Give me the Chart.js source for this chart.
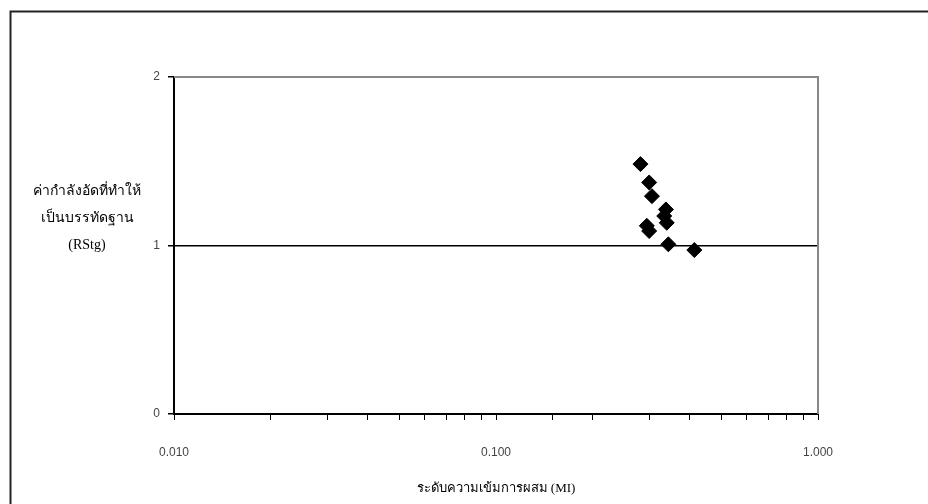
<!DOCTYPE html>
<html>
<head>
<meta charset="utf-8">
<script src="https://cdn.jsdelivr.net/npm/chart.js@4"></script>
<style>
  html, body { margin: 0; padding: 0; background: #fff; }
  #wrap { width: 928px; height: 504px; position: relative; }
</style>
</head>
<body>
<div id="wrap"><canvas id="chart"></canvas></div>
<script>
// values
const mixLevel = [0.281, 0.299, 0.305, 0.337, 0.333, 0.339, 0.294, 0.299, 0.343, 0.413];
const rstg     = [1.483, 1.374, 1.293, 1.214, 1.175, 1.135, 1.117, 1.086, 1.007, 0.973];
const yTicks = [0, 1, 2];
const xDecades = [0.01, 0.1, 1];
const yTitleLines = ['ค่ากำลังอัดที่ทำให้', 'เป็นบรรทัดฐาน', '(RStg)'];
const xTitle = 'ระดับความเข้มการผสม (MI)';

const points = mixLevel.map((x, i) => ({ x: x, y: rstg[i] }));

// frame lines, gray plot border, horizontal y title
const decor = {
    id: 'decor',
    afterDraw(chart) {
        const ctx = chart.ctx;
        const a = chart.chartArea;
        ctx.save();
        ctx.strokeStyle = '#222';
        ctx.lineWidth = 2;
        ctx.beginPath();
        ctx.moveTo(10.5, 504);
        ctx.lineTo(10.5, 11.5);
        ctx.lineTo(928, 11.5);
        ctx.stroke();

        ctx.strokeStyle = '#888';
        ctx.lineWidth = 2;
        ctx.beginPath();
        ctx.moveTo(a.left, a.top);
        ctx.lineTo(a.right, a.top);
        ctx.lineTo(a.right, a.bottom);
        ctx.stroke();

        ctx.fillStyle = '#000';
        ctx.font = '14px "Liberation Serif", serif';
        ctx.textAlign = 'center';
        ctx.textBaseline = 'middle';
        yTitleLines.forEach((t, i) => ctx.fillText(t, 87, 191 + i * 27));
        ctx.restore();
    }
};

new Chart(document.getElementById('chart'), {
    type: 'scatter',
    data: {
        datasets: [{
            data: points,
            pointStyle: 'rectRot',
            pointRadius: 7.5,
            pointBackgroundColor: '#000',
            pointBorderColor: '#000',
            pointBorderWidth: 1
        }]
    },
    options: {
        responsive: true,
        maintainAspectRatio: false,
        animation: false,
        layout: { padding: { left: 0, right: 110, top: 77, bottom: 8 } },
        plugins: { legend: { display: false }, tooltip: { enabled: false } },
        scales: {
            x: {
                type: 'logarithmic',
                min: 0.01,
                max: 1,
                afterFit: s => { s.height = 82; },
                border: { color: '#000', width: 2 },
                grid: { drawOnChartArea: false, tickLength: 6, color: '#000', tickColor: '#000' },
                ticks: {
                    autoSkip: false,
                    maxRotation: 0,
                    padding: 25,
                    color: '#444',
                    font: { family: '"Liberation Sans", Arial, sans-serif', size: 12 },
                    callback: v => xDecades.some(d => Math.abs(d - v) < 1e-9) ? v.toFixed(3) : ''
                },
                title: {
                    display: true,
                    text: xTitle,
                    color: '#000',
                    padding: { top: 11, bottom: 0 },
                    font: { family: '"Liberation Serif", serif', size: 13 }
                }
            },
            y: {
                min: 0,
                max: 2,
                afterFit: s => { s.width = 174; },
                afterBuildTicks: s => { s.ticks = yTicks.map(v => ({ value: v })); },
                border: { color: '#000', width: 2 },
                grid: {
                    tickLength: 6,
                    tickColor: '#000',
                    color: c => c.tick && c.tick.value === 1 ? '#000' : 'rgba(0,0,0,0)',
                    lineWidth: 1.5
                },
                ticks: {
                    padding: 8,
                    color: '#444',
                    font: { family: '"Liberation Sans", Arial, sans-serif', size: 12 }
                }
            }
        }
    },
    plugins: [decor]
});
</script>
</body>
</html>
